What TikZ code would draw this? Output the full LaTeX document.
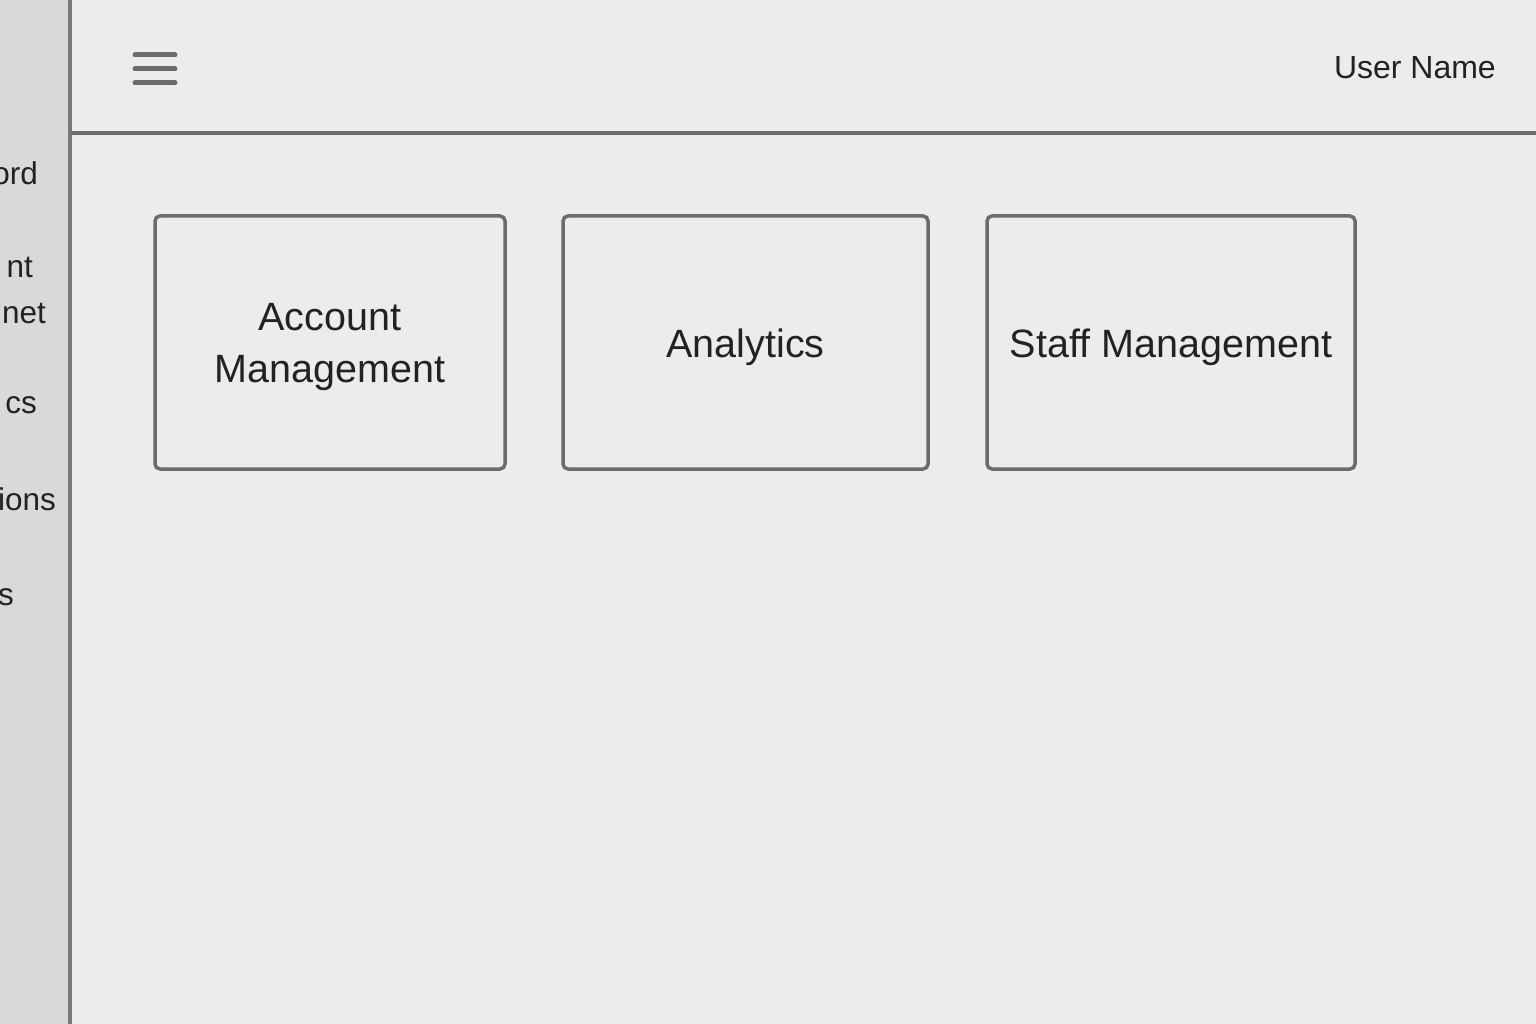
\documentclass[tikz,border=0pt]{standalone}
\usepackage{fontspec}
\setmainfont{Liberation Sans}
\definecolor{mainbg}{HTML}{ECECEC}
\definecolor{sidebg}{HTML}{D9D9D9}
\definecolor{edge}{HTML}{6B6B6B}
\definecolor{ink}{HTML}{222222}
\tikzset{
  card/.style={draw=edge, line width=3.5pt, rounded corners=5pt, fill=mainbg,
    minimum width=#1, minimum height=253pt, inner sep=0pt},
  cardtext/.style={align=center, text=ink, yshift=-5pt,
    font=\fontsize{39.5pt}{52pt}\selectfont, inner sep=0pt},
  sidetext/.style={anchor=base east, text=ink, font=\fontsize{31.5pt}{36pt}\selectfont, inner sep=0pt},
  burger/.style={draw=edge, line width=5pt, line cap=round}
}
\begin{document}
\begin{tikzpicture}[x=1pt,y=-1pt]
\useasboundingbox (0,0) rectangle (1536,1024);
\fill[mainbg] (0,0) rectangle (1536,1024);
\fill[sidebg] (0,0) rectangle (68,1024);
\draw[edge!90, line width=4pt] (69.5,0) -- (69.5,1024);
\draw[edge, line width=4pt] (71,133.5) -- (1536,133.5);
% hamburger
\coordinate (h1a) at (135,55); \coordinate (h1b) at (175,55);
\coordinate (h2a) at (135,69); \coordinate (h2b) at (175,69);
\coordinate (h3a) at (135,83); \coordinate (h3b) at (175,83);
\draw[burger] (h1a) -- (h1b);
\draw[burger] (h2a) -- (h2b);
\draw[burger] (h3a) -- (h3b);
% user name
\node[anchor=base east, text=ink, font=\fontsize{32pt}{40pt}\selectfont, inner sep=0pt] (user) at (1496,79) {User Name};
% sidebar fragments
\node[sidetext] (s1) at (38,185) {ord};
\node[sidetext] (s2) at (33,278) {nt};
\node[sidetext] (s3) at (46,323) {net};
\node[sidetext] (s4) at (37,413) {cs};
\node[sidetext] (s5) at (56,510) {ions};
\node[sidetext] (s6) at (14,605) {s};
% cards
\node[card=350pt] (acc) at (330,342.5) {};
\node[card=365pt] (ana) at (745.5,342.5) {};
\node[card=368pt] (staff) at (1171,342.5) {};
\node[cardtext] (acct) at (acc.center) {Account\\Management};
\node[cardtext] (anat) at (ana.center) {Analytics};
\node[cardtext] (stafft) at (staff.center) {Staff Management};
\end{tikzpicture}
\end{document}
